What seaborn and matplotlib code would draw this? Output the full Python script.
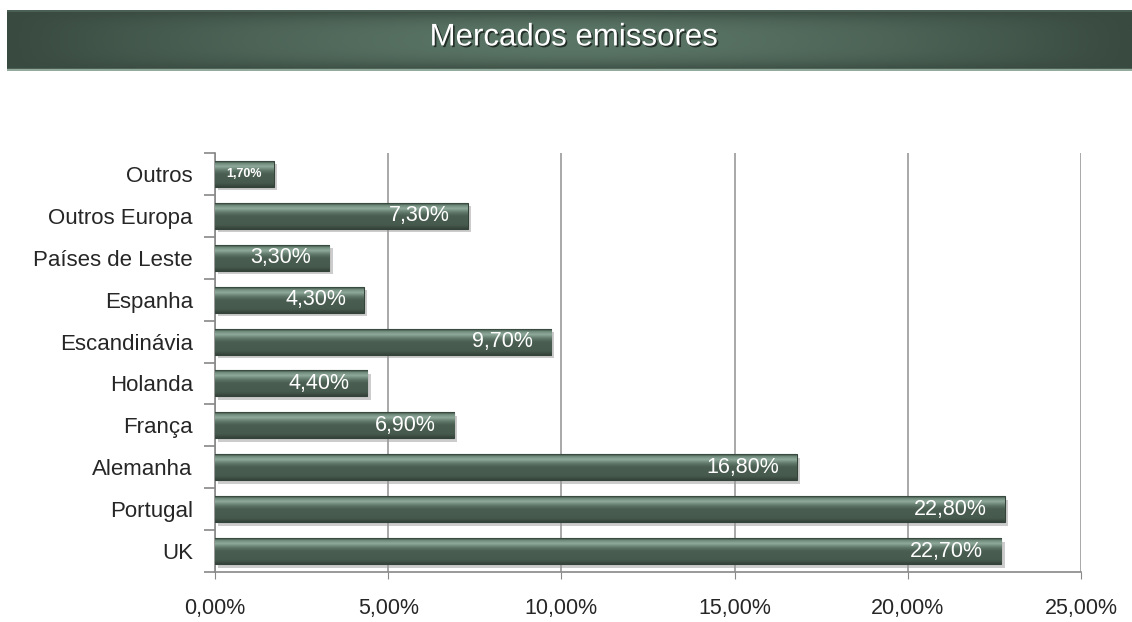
import numpy as np
import pandas as pd
import matplotlib
matplotlib.use("Agg")
import matplotlib.pyplot as plt
import matplotlib.patheffects as pe
from matplotlib.colors import LinearSegmentedColormap
import seaborn as sns

# Data
categories = ["Outros", "Outros Europa", "Países de Leste", "Espanha", "Escandinávia",
              "Holanda", "França", "Alemanha", "Portugal", "UK"]
shares = [1.7, 7.3, 3.3, 4.3, 9.7, 4.4, 6.9, 16.8, 22.8, 22.7]
x_ticks = [0, 5, 10, 15, 20, 25]
title = "Mercados emissores"

df = pd.DataFrame({"mercado": categories, "quota": shares})

sns.set_style("white")
plt.rcParams["font.family"] = ["Liberation Sans", "DejaVu Sans"]

W, H = 1132, 622
fig = plt.figure(figsize=(W / 100, H / 100), dpi=100)

# Title banner with a soft gradient
ax_ban = fig.add_axes([7 / W, 1 - 71 / H, 1 - 7 / W, 61 / H])
gx = np.linspace(-1, 1, 400)
gy = np.linspace(-1, 1, 60)
XX, YY = np.meshgrid(gx, gy)
glow = np.clip(1 - np.abs(XX) ** 1.6, 0, 1) * np.clip(1 - np.abs(YY) ** 3, 0, 1)
ban_cmap = LinearSegmentedColormap.from_list("ban", ["#394a40", "#5a7566"])
ax_ban.imshow(glow, cmap=ban_cmap, aspect="auto", extent=[0, 1, 0, 1], vmin=0, vmax=1)
ax_ban.axhline(0.015, color="#93ab9d", lw=2.5)
ax_ban.axhline(0.99, color="#4c5f54", lw=1.5)
ax_ban.set_xlim(0, 1)
ax_ban.set_ylim(0, 1)
ax_ban.axis("off")
ax_ban.text(0.504, 0.55, title, ha="center", va="center", color="white", fontsize=22.5,
            path_effects=[pe.withSimplePatchShadow(offset=(1.2, -1.2), shadow_rgbFace="#1e2822", alpha=0.9)])

# Main bar chart
ax = fig.add_axes([215 / W, 1 - 572 / H, (1081 - 215) / W, (572 - 153) / H])
sns.barplot(data=df, x="quota", y="mercado", orient="h", color="#4a5d51", saturation=1,
            width=0.62, edgecolor="#34433a", linewidth=0.8, ax=ax, zorder=3)

bar_cmap = LinearSegmentedColormap.from_list(
    "bar", [(0.0, "#2f3d35"), (0.08, "#6f8a7b"), (0.2, "#8fa99b"), (0.38, "#5a7264"),
            (0.5, "#4a5d51"), (0.85, "#475a4e"), (1.0, "#34433a")])
grad = np.linspace(0, 1, 64).reshape(-1, 1)
for p in ax.patches:
    p.set_path_effects([pe.SimplePatchShadow(offset=(2.5, -2.5), shadow_rgbFace="#9a9a9a", alpha=0.5),
                        pe.Normal()])
    x0, y0, w, h = p.get_x(), p.get_y(), p.get_width(), p.get_height()
    im = ax.imshow(grad, cmap=bar_cmap, aspect="auto", extent=[x0, x0 + w, y0 + h, y0],
                   zorder=3.5, interpolation="bilinear")
    im.set_clip_path(p)

for i, v in enumerate(shares):
    lab = f"{v:.2f}%".replace(".", ",")
    if v < 2:
        ax.annotate(lab, xy=(v / 2, i), ha="center", va="center", color="white",
                    fontsize=9, fontweight="bold", zorder=5)
    else:
        ax.annotate(lab, xy=(v, i), xytext=(-13, 0), textcoords="offset points",
                    ha="right", va="center", color="white", fontsize=15.5, zorder=5)

ax.set_xlim(0, 25)
ax.set_ylim(len(categories) - 0.5, -0.5)
ax.set_xticks(x_ticks)
ax.set_xticklabels([f"{t:.2f}%".replace(".", ",") for t in x_ticks], fontsize=15.5)
ax.tick_params(axis="x", bottom=True, length=5, color="#888888", pad=14, direction="out")
ax.tick_params(axis="y", which="major", left=False, length=0, labelsize=16, pad=16)
ax.set_yticks(np.arange(-0.5, len(categories)), minor=True)
ax.tick_params(axis="y", which="minor", left=True, length=8, width=1.2, color="#888888", direction="out")
ax.xaxis.grid(True, color="#9a9a9a", lw=1.2, zorder=0)
ax.set_axisbelow(True)
for s in ["top", "right"]:
    ax.spines[s].set_visible(False)
for s in ["left", "bottom"]:
    ax.spines[s].set_color("#888888")
    ax.spines[s].set_linewidth(1.2)
ax.set_xlabel("")
ax.set_ylabel("")

fig.savefig("out.png", dpi=100)
